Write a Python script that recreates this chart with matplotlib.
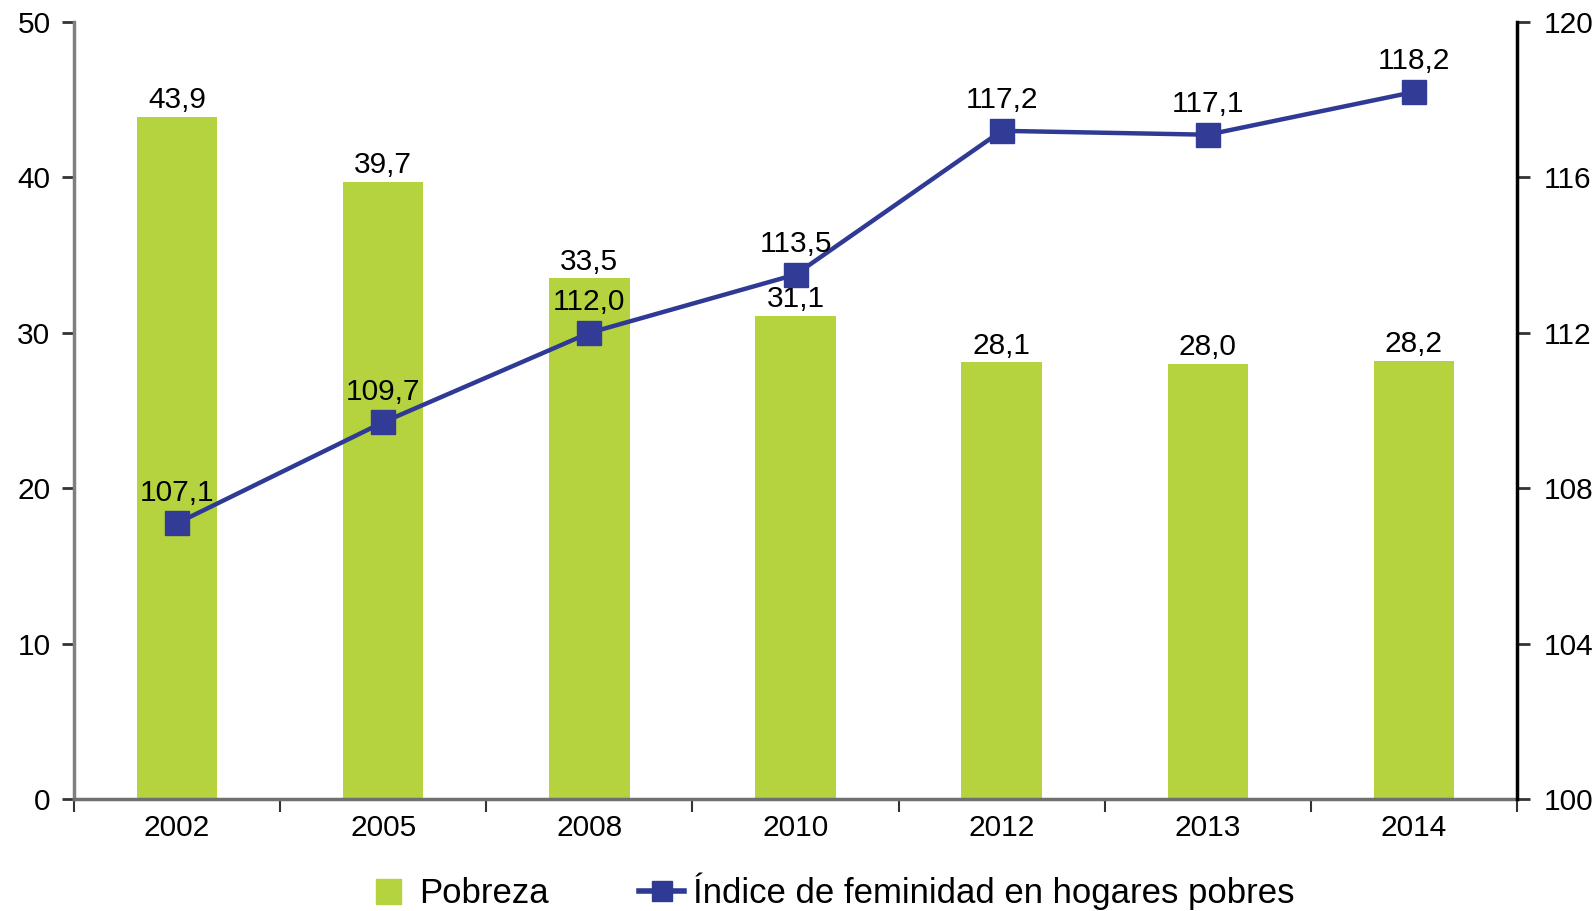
import numpy as np
import matplotlib.pyplot as plt
from matplotlib.lines import Line2D

plt.rcParams['font.family'] = ['Liberation Sans', 'DejaVu Sans']

years = ['2002', '2005', '2008', '2010', '2012', '2013', '2014']
pobreza = [43.9, 39.7, 33.5, 31.1, 28.1, 28.0, 28.2]
feminidad = [107.1, 109.7, 112.0, 113.5, 117.2, 117.1, 118.2]

green = '#b5d33f'
navy = '#2e3a94'

def coma(v):
    return f'{v:.1f}'.replace('.', ',')

fig = plt.figure(figsize=(15.96, 9.11), dpi=100)
ax = fig.add_axes([0.0464, 0.1229, 0.9041, 0.8529])
ax2 = ax.twinx()

x = np.arange(len(years))
ax.bar(x, pobreza, width=0.39, color=green, zorder=2)
for xi, v in zip(x, pobreza):
    ax.annotate(coma(v), (xi, v), xytext=(0, 12), textcoords='offset points',
                ha='center', va='center', fontsize=21.5, color='black')

ax2.plot(x, feminidad, color=navy, lw=3.2, marker='s', markersize=17,
         markerfacecolor='#323c96', markeredgecolor='#323c96', zorder=3)
for xi, v in zip(x, feminidad):
    ax2.annotate(coma(v), (xi, v), xytext=(0, 22), textcoords='offset points',
                 ha='center', va='center', fontsize=21.5, color='black')

ax.set_xlim(-0.5, len(years) - 0.5)
ax.set_ylim(0, 50)
ax2.set_ylim(100, 120)
ax.set_yticks(np.arange(0, 51, 10))
ax2.set_yticks(np.arange(100, 121, 4))

ax.set_xticks(x)
ax.set_xticklabels(years)
ax.set_xticks(np.arange(-0.5, len(years), 1), minor=True)
ax.tick_params(axis='x', which='major', length=0, pad=11, labelsize=21.5)
ax.tick_params(axis='x', which='minor', length=9, width=1.5, color='#333333')
ax.tick_params(axis='y', length=9, width=2, color='#333333', pad=8, labelsize=21.5)
ax2.tick_params(axis='y', length=9, width=2, color='#333333', pad=10, labelsize=21.5)

for a in (ax, ax2):
    a.spines['top'].set_visible(False)
ax.spines['left'].set_color('#808080')
ax.spines['left'].set_linewidth(2.5)
ax.spines['bottom'].set_color('#707070')
ax.spines['bottom'].set_linewidth(2.5)
ax.spines['right'].set_visible(False)
ax2.spines['left'].set_visible(False)
ax2.spines['bottom'].set_visible(False)
ax2.spines['right'].set_color('black')
ax2.spines['right'].set_linewidth(2.5)

handles = [Line2D([0], [0], linestyle='none', marker='s', markersize=18,
                  markerfacecolor=green, markeredgecolor=green),
           Line2D([0], [0], color=navy, lw=4, marker='s', markersize=14)]
fig.legend(handles, ['Pobreza', 'Índice de feminidad en hogares pobres'],
           loc='center', bbox_to_anchor=(0.52, 0.022), ncol=2, frameon=False,
           fontsize=25, handlelength=1.3, columnspacing=2.6,
           handletextpad=0.25)

fig.savefig('out.png', dpi=100)
